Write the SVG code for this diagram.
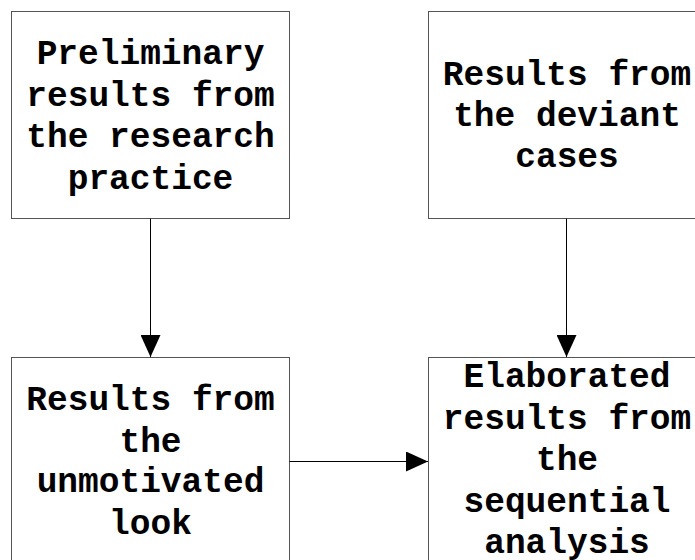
<svg xmlns="http://www.w3.org/2000/svg" width="695" height="560" viewBox="0 0 695 560">
  <style>
    .box { fill: #ffffff; stroke: #555555; stroke-width: 1; }
    .label { font-family: "Liberation Mono", "Courier New", monospace; font-weight: bold; font-size: 34.5px; fill: #000000; text-anchor: middle; }
    .edge { stroke: #000000; stroke-width: 1; fill: none; }
  </style>
  <defs>
    <marker id="arrow" markerWidth="22" markerHeight="20" refX="22" refY="10" orient="auto" markerUnits="userSpaceOnUse">
      <path d="M0,0 L22,10 L0,20 Z" fill="#000000"/>
    </marker>
  </defs>
  <rect width="695" height="560" fill="#ffffff"/>

  <g id="preliminary">
    <rect class="box" x="11.5" y="11.5" width="278" height="207"/>
    <text class="label" x="150.5" y="64">Preliminary</text>
    <text class="label" x="150.5" y="105.5">results from</text>
    <text class="label" x="150.5" y="147">the research</text>
    <text class="label" x="150.5" y="188.5">practice</text>
  </g>

  <g id="deviant">
    <rect class="box" x="428.5" y="11.5" width="278" height="207"/>
    <text class="label" x="567" y="84.5">Results from</text>
    <text class="label" x="567" y="126">the deviant</text>
    <text class="label" x="567" y="167">cases</text>
  </g>

  <g id="unmotivated">
    <rect class="box" x="11.5" y="357.5" width="278" height="220"/>
    <text class="label" x="150.5" y="410">Results from</text>
    <text class="label" x="150.5" y="451.5">the</text>
    <text class="label" x="150.5" y="492">unmotivated</text>
    <text class="label" x="150.5" y="533.5">look</text>
  </g>

  <g id="elaborated">
    <rect class="box" x="428.5" y="357.5" width="278" height="220"/>
    <text class="label" x="567" y="387">Elaborated</text>
    <text class="label" x="567" y="428.5">results from</text>
    <text class="label" x="567" y="470">the</text>
    <text class="label" x="567" y="511.5">sequential</text>
    <text class="label" x="567" y="553">analysis</text>
  </g>

  <g id="connectors">
    <line class="edge" x1="150.5" y1="218.5" x2="150.5" y2="357" marker-end="url(#arrow)"/>
    <line class="edge" x1="566.5" y1="218.5" x2="566.5" y2="357" marker-end="url(#arrow)"/>
    <line class="edge" x1="289.5" y1="461.5" x2="428" y2="461.5" marker-end="url(#arrow)"/>
  </g>
</svg>
